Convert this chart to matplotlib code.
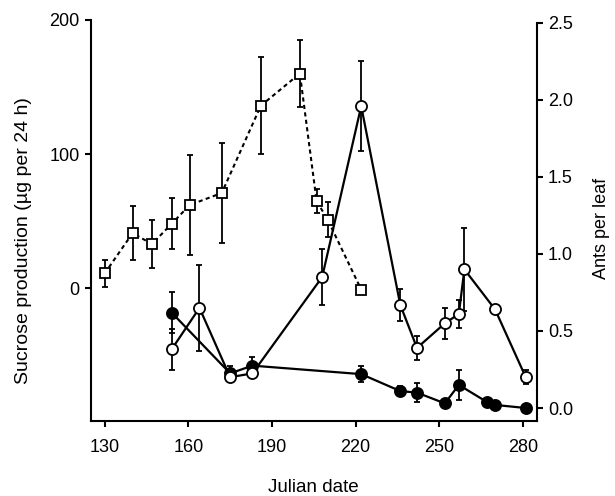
import matplotlib
matplotlib.use("Agg")
import matplotlib.pyplot as plt

plt.rcParams['font.family'] = ['Liberation Sans', 'DejaVu Sans']
plt.rcParams['font.size'] = 13

# sucrose production (squares, left axis)
sucrose_day = [130, 140, 147, 154, 160.5, 172, 186, 200, 206, 210, 222]
sucrose_val = [11, 41, 33, 48, 62, 71, 136, 160, 65, 51, -1]
sucrose_err = [10, 20, 18, 19, 37, 37, 36, 25, 9, 13, 0]

# ants per leaf (open circles, right axis)
open_day = [154, 164, 175, 183, 208, 222, 236, 242, 252, 257, 259, 270, 281]
open_val = [0.38, 0.65, 0.20, 0.225, 0.85, 1.96, 0.67, 0.39, 0.55, 0.61, 0.90, 0.64, 0.20]
open_err = [0.13, 0.28, 0.03, 0, 0.18, 0.29, 0.105, 0.08, 0.10, 0.09, 0.27, 0, 0.047]

# ants per leaf (filled circles, right axis)
filled_day = [154, 175, 183, 222, 236, 242, 252, 257, 267, 270, 281]
filled_val = [0.62, 0.225, 0.275, 0.22, 0.11, 0.10, 0.03, 0.15, 0.04, 0.02, 0.0]
filled_err = [0.13, 0.05, 0.055, 0.05, 0.03, 0.06, 0, 0.1, 0, 0, 0]

xticks = [130, 160, 190, 220, 250, 280]

fig = plt.figure(figsize=(6.15, 4.96), dpi=100)
ax1 = fig.add_axes([0.1475, 0.151, 0.7255, 0.809])
ax2 = ax1.twinx()

eb = dict(color='black', capsize=2, elinewidth=1.3, capthick=1.3)

ax1.errorbar(sucrose_day, sucrose_val, yerr=sucrose_err, fmt='s', ms=7.5,
             mfc='white', mec='black', mew=1.3, ls=(0, (2, 1.6)), lw=1.5, **eb)

ax2.errorbar(filled_day, filled_val, yerr=filled_err, fmt='o', ms=8,
             mfc='black', mec='black', mew=1.3, ls='-', lw=1.6, **eb)
ax2.errorbar(open_day, open_val, yerr=open_err, fmt='o', ms=8,
             mfc='white', mec='black', mew=1.3, ls='-', lw=1.6, **eb)

ax1.set_xlim(125, 285)
ax1.set_ylim(-99, 200)
ax2.set_ylim(-0.085, 2.52)

ax1.set_xticks(xticks)
ax1.set_yticks([0, 100, 200])
ax2.set_yticks([0.0, 0.5, 1.0, 1.5, 2.0, 2.5])
ax2.set_yticklabels(['0.0', '0.5', '1.0', '1.5', '2.0', '2.5'])

for ax in (ax1, ax2):
    ax.spines['top'].set_visible(False)
    for s in ax.spines.values():
        s.set_linewidth(1.5)
    ax.tick_params(length=4.5, width=1.5, pad=3.5, labelsize=13)
ax1.tick_params(axis='x', pad=8.5)
ax1.spines['right'].set_visible(False)
ax2.spines['left'].set_visible(False)
ax2.spines['bottom'].set_visible(False)
ax2.spines['right'].set_bounds(-0.085, 2.5)

ax1.set_xlabel('Julian date', fontsize=13.5)
ax1.set_ylabel('Sucrose production (\u00b5g per 24 h)', fontsize=14)
ax2.set_ylabel('Ants per leaf', fontsize=13)
ax1.xaxis.set_label_coords(0.5, -0.145)
ax1.yaxis.set_label_coords(-0.1315, 0.449)
ax2.yaxis.set_label_coords(1.1255, 0.481)

fig.savefig('out.png', dpi=100)
